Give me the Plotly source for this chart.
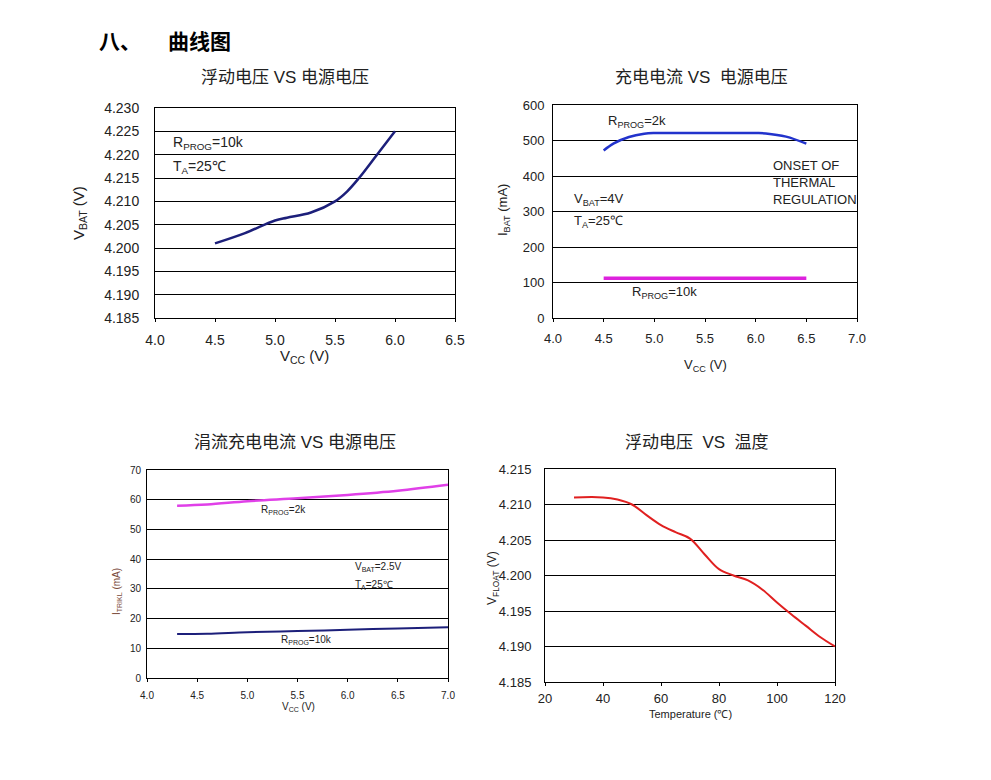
import plotly.graph_objects as go

# ---------------- data ----------------
# Chart 1: float voltage vs supply voltage
c1_vcc = [4.5, 4.75, 5.0, 5.1, 5.3, 5.5, 5.6, 5.7, 5.85, 6.0]
c1_vbat = [4.2010, 4.2032, 4.2059, 4.2065, 4.2076, 4.2100, 4.2121, 4.2150, 4.2200, 4.2250]

# Chart 2: charge current vs supply voltage
c2_vcc_2k = [4.5, 4.6, 4.75, 4.9, 5.0, 5.5, 6.0, 6.1, 6.3, 6.5]
c2_ibat_2k = [472, 492, 510, 519, 521, 521, 521, 520, 511, 491]
c2_vcc_10k = [4.5, 5.0, 5.5, 6.0, 6.5]
c2_ibat_10k = [112, 112, 112, 112, 112]

# Chart 3: trickle charge current vs supply voltage
c3_vcc = [4.3, 4.6, 5.0, 5.5, 6.0, 6.5, 7.0]
c3_itrkl_2k = [58.0, 58.4, 59.5, 60.5, 61.6, 63.0, 65.0]
c3_itrkl_10k = [14.8, 14.9, 15.4, 15.8, 16.2, 16.7, 17.1]

# Chart 4: float voltage vs temperature
c4_temp = [30, 40, 45, 50, 55, 60, 65, 70, 75, 80, 85, 90, 95, 100, 105, 110, 115, 120]
c4_vfloat = [4.2110, 4.2110, 4.2107, 4.2100, 4.2085, 4.2071, 4.2061, 4.2052, 4.2030, 4.2009,
             4.2000, 4.1993, 4.1980, 4.1962, 4.1945, 4.1929, 4.1913, 4.1900]

# ticks
c1_xticks = [4.0, 4.5, 5.0, 5.5, 6.0, 6.5]
c1_yticks = [4.185, 4.190, 4.195, 4.200, 4.205, 4.210, 4.215, 4.220, 4.225, 4.230]
c2_xticks = [4.0, 4.5, 5.0, 5.5, 6.0, 6.5, 7.0]
c2_yticks = [0, 100, 200, 300, 400, 500, 600]
c3_xticks = [4.0, 4.5, 5.0, 5.5, 6.0, 6.5, 7.0]
c3_yticks = [0, 10, 20, 30, 40, 50, 60, 70]
c4_xticks = [20, 40, 60, 80, 100, 120]
c4_yticks = [4.185, 4.190, 4.195, 4.200, 4.205, 4.210, 4.215]

W, H = 991, 780
OFF = 8  # page body margin
CJK = "Liberation Sans, Noto Sans CJK SC"
HDR = "Noto Sans CJK SC"
LAT = "Liberation Sans, Arial"
TXT = "#222222"


def px_x(p):
    return (p - OFF) / W


def px_y(p):
    return 1 - (p - OFF) / H


fig = go.Figure()

NAVY = "#1c1f7a"
fig.add_trace(go.Scatter(x=c1_vcc, y=c1_vbat, mode="lines", line=dict(color=NAVY, width=2.5, shape="spline"),
                         xaxis="x", yaxis="y", showlegend=False))
fig.add_trace(go.Scatter(x=c2_vcc_2k, y=c2_ibat_2k, mode="lines", line=dict(color="#2233cc", width=2.5, shape="spline"),
                         xaxis="x2", yaxis="y2", showlegend=False))
fig.add_trace(go.Scatter(x=c2_vcc_10k, y=c2_ibat_10k, mode="lines", line=dict(color="#dd22dd", width=3.5),
                         xaxis="x2", yaxis="y2", showlegend=False))
fig.add_trace(go.Scatter(x=c3_vcc, y=c3_itrkl_2k, mode="lines", line=dict(color="#e040e8", width=2.5, shape="spline"),
                         xaxis="x3", yaxis="y3", showlegend=False))
fig.add_trace(go.Scatter(x=c3_vcc, y=c3_itrkl_10k, mode="lines", line=dict(color=NAVY, width=2, shape="spline"),
                         xaxis="x3", yaxis="y3", showlegend=False))
fig.add_trace(go.Scatter(x=c4_temp, y=c4_vfloat, mode="lines", line=dict(color="#e02020", width=2, shape="spline"),
                         xaxis="x4", yaxis="y4", showlegend=False))


def xax(domain, rng, ticks, fmt, anchor, fsize, standoff):
    return dict(domain=domain, range=rng, tickvals=ticks, ticktext=[fmt.format(t) for t in ticks],
                showgrid=False, zeroline=False, showline=True, linecolor="black", linewidth=1, mirror=True,
                ticks="outside", ticklen=3, tickcolor="black", anchor=anchor, automargin=False,
                tickfont=dict(family=LAT, size=fsize, color=TXT), ticklabelstandoff=standoff, fixedrange=True)


def yax(domain, rng, ticks, fmt, anchor, fsize, standoff):
    return dict(domain=domain, range=rng, tickvals=ticks, ticktext=[fmt.format(t) for t in ticks],
                showgrid=True, gridcolor="black", gridwidth=1, zeroline=False,
                showline=True, linecolor="black", linewidth=1, mirror=True,
                ticks="", anchor=anchor, automargin=False,
                tickfont=dict(family=LAT, size=fsize, color=TXT), ticklabelstandoff=standoff, fixedrange=True)


fig.update_layout(
    template="none",
    width=W, height=H, margin=dict(l=0, r=0, t=0, b=0, pad=0),
    paper_bgcolor="white", plot_bgcolor="white", showlegend=False,
    xaxis=xax([px_x(155), px_x(455)], [4.0, 6.5], c1_xticks, "{:.1f}", "y", 14, 6),
    yaxis=yax([px_y(318), px_y(108)], [4.185, 4.230], c1_yticks, "{:.3f}", "x", 14, 12),
    xaxis2=xax([px_x(553), px_x(857)], [4.0, 7.0], c2_xticks, "{:.1f}", "y2", 13, 5),
    yaxis2=yax([px_y(318), px_y(105)], [0, 600], c2_yticks, "{:d}", "x2", 13, 5),
    xaxis3=xax([px_x(147), px_x(448)], [4.0, 7.0], c3_xticks, "{:.1f}", "y3", 10, 5),
    yaxis3=yax([px_y(678), px_y(470)], [0, 70], c3_yticks, "{:d}", "x3", 10, 3),
    xaxis4=xax([px_x(545), px_x(835)], [20, 120], c4_xticks, "{:d}", "y4", 13, 1),
    yaxis4=yax([px_y(682), px_y(469)], [4.185, 4.215], c4_yticks, "{:.3f}", "x4", 13, 10),
)

ann = []


def paper_text(text, x, y, size, family=CJK, color=TXT, angle=0, xanchor="center"):
    ann.append(dict(text=text, x=px_x(x), y=px_y(y), xref="paper", yref="paper", showarrow=False,
                    xanchor=xanchor, yanchor="middle", textangle=angle,
                    font=dict(family=family, size=size, color=color)))


def data_text(text, x, y, xr, yr, size):
    ann.append(dict(text=text, x=x, y=y, xref=xr, yref=yr, showarrow=False, xanchor="left", yanchor="middle",
                    align="left", font=dict(family=LAT, size=size, color=TXT)))


# header
paper_text("<b>八、</b>", 97, 40, 21, family=HDR, xanchor="left", color="black")
paper_text("<b>曲线图</b>", 166, 40, 21, family=HDR, xanchor="left", color="black")

# chart titles
paper_text("浮动电压 VS 电源电压", 285, 77, 17)
paper_text("充电电流 VS  电源电压", 701, 77, 17)
paper_text("涓流充电电流 VS 电源电压", 295, 442, 17)
paper_text("浮动电压  VS  温度", 697, 442, 17)

# axis titles
paper_text("V<sub>BAT</sub> (V)", 80, 213, 15, family=LAT, angle=-90)
paper_text("V<sub>CC</sub> (V)", 304, 356, 15, family=LAT)
paper_text("I<sub>BAT</sub> (mA)", 504, 210, 13, family=LAT, angle=-90)
paper_text("V<sub>CC</sub> (V)", 705, 366, 13, family=LAT)
paper_text("I<sub>TRIKL</sub> (mA)", 117, 592, 10, family=LAT, angle=-90, color="#7a4a3a")
paper_text("V<sub>CC</sub> (V)", 298, 707, 10, family=LAT)
paper_text("V<sub>FLOAT</sub> (V)", 493, 578, 12, family=LAT, angle=-90)
paper_text("Temperature (℃)", 690, 714, 11, family=LAT)

# in-plot labels
data_text("R<sub>PROG</sub>=10k", 4.13, 4.2225, "x", "y", 14)
data_text("T<sub>A</sub>=25℃", 4.13, 4.2173, "x", "y", 14)

data_text("R<sub>PROG</sub>=2k", 4.52, 553, "x2", "y2", 13)
data_text("ONSET OF<br>THERMAL<br>REGULATION", 6.15, 383, "x2", "y2", 13)
data_text("V<sub>BAT</sub>=4V", 4.19, 335, "x2", "y2", 13)
data_text("T<sub>A</sub>=25℃", 4.19, 273, "x2", "y2", 13)
data_text("R<sub>PROG</sub>=10k", 4.76, 72, "x2", "y2", 13)

data_text("R<sub>PROG</sub>=2k", 5.12, 56.6, "x3", "y3", 10)
data_text("V<sub>BAT</sub>=2.5V", 6.05, 37.5, "x3", "y3", 10)
data_text("T<sub>A</sub>=25℃", 6.05, 31.4, "x3", "y3", 10)
data_text("R<sub>PROG</sub>=10k", 5.32, 12.9, "x3", "y3", 10)

fig.update_layout(annotations=ann)

fig.write_html("out.html")
